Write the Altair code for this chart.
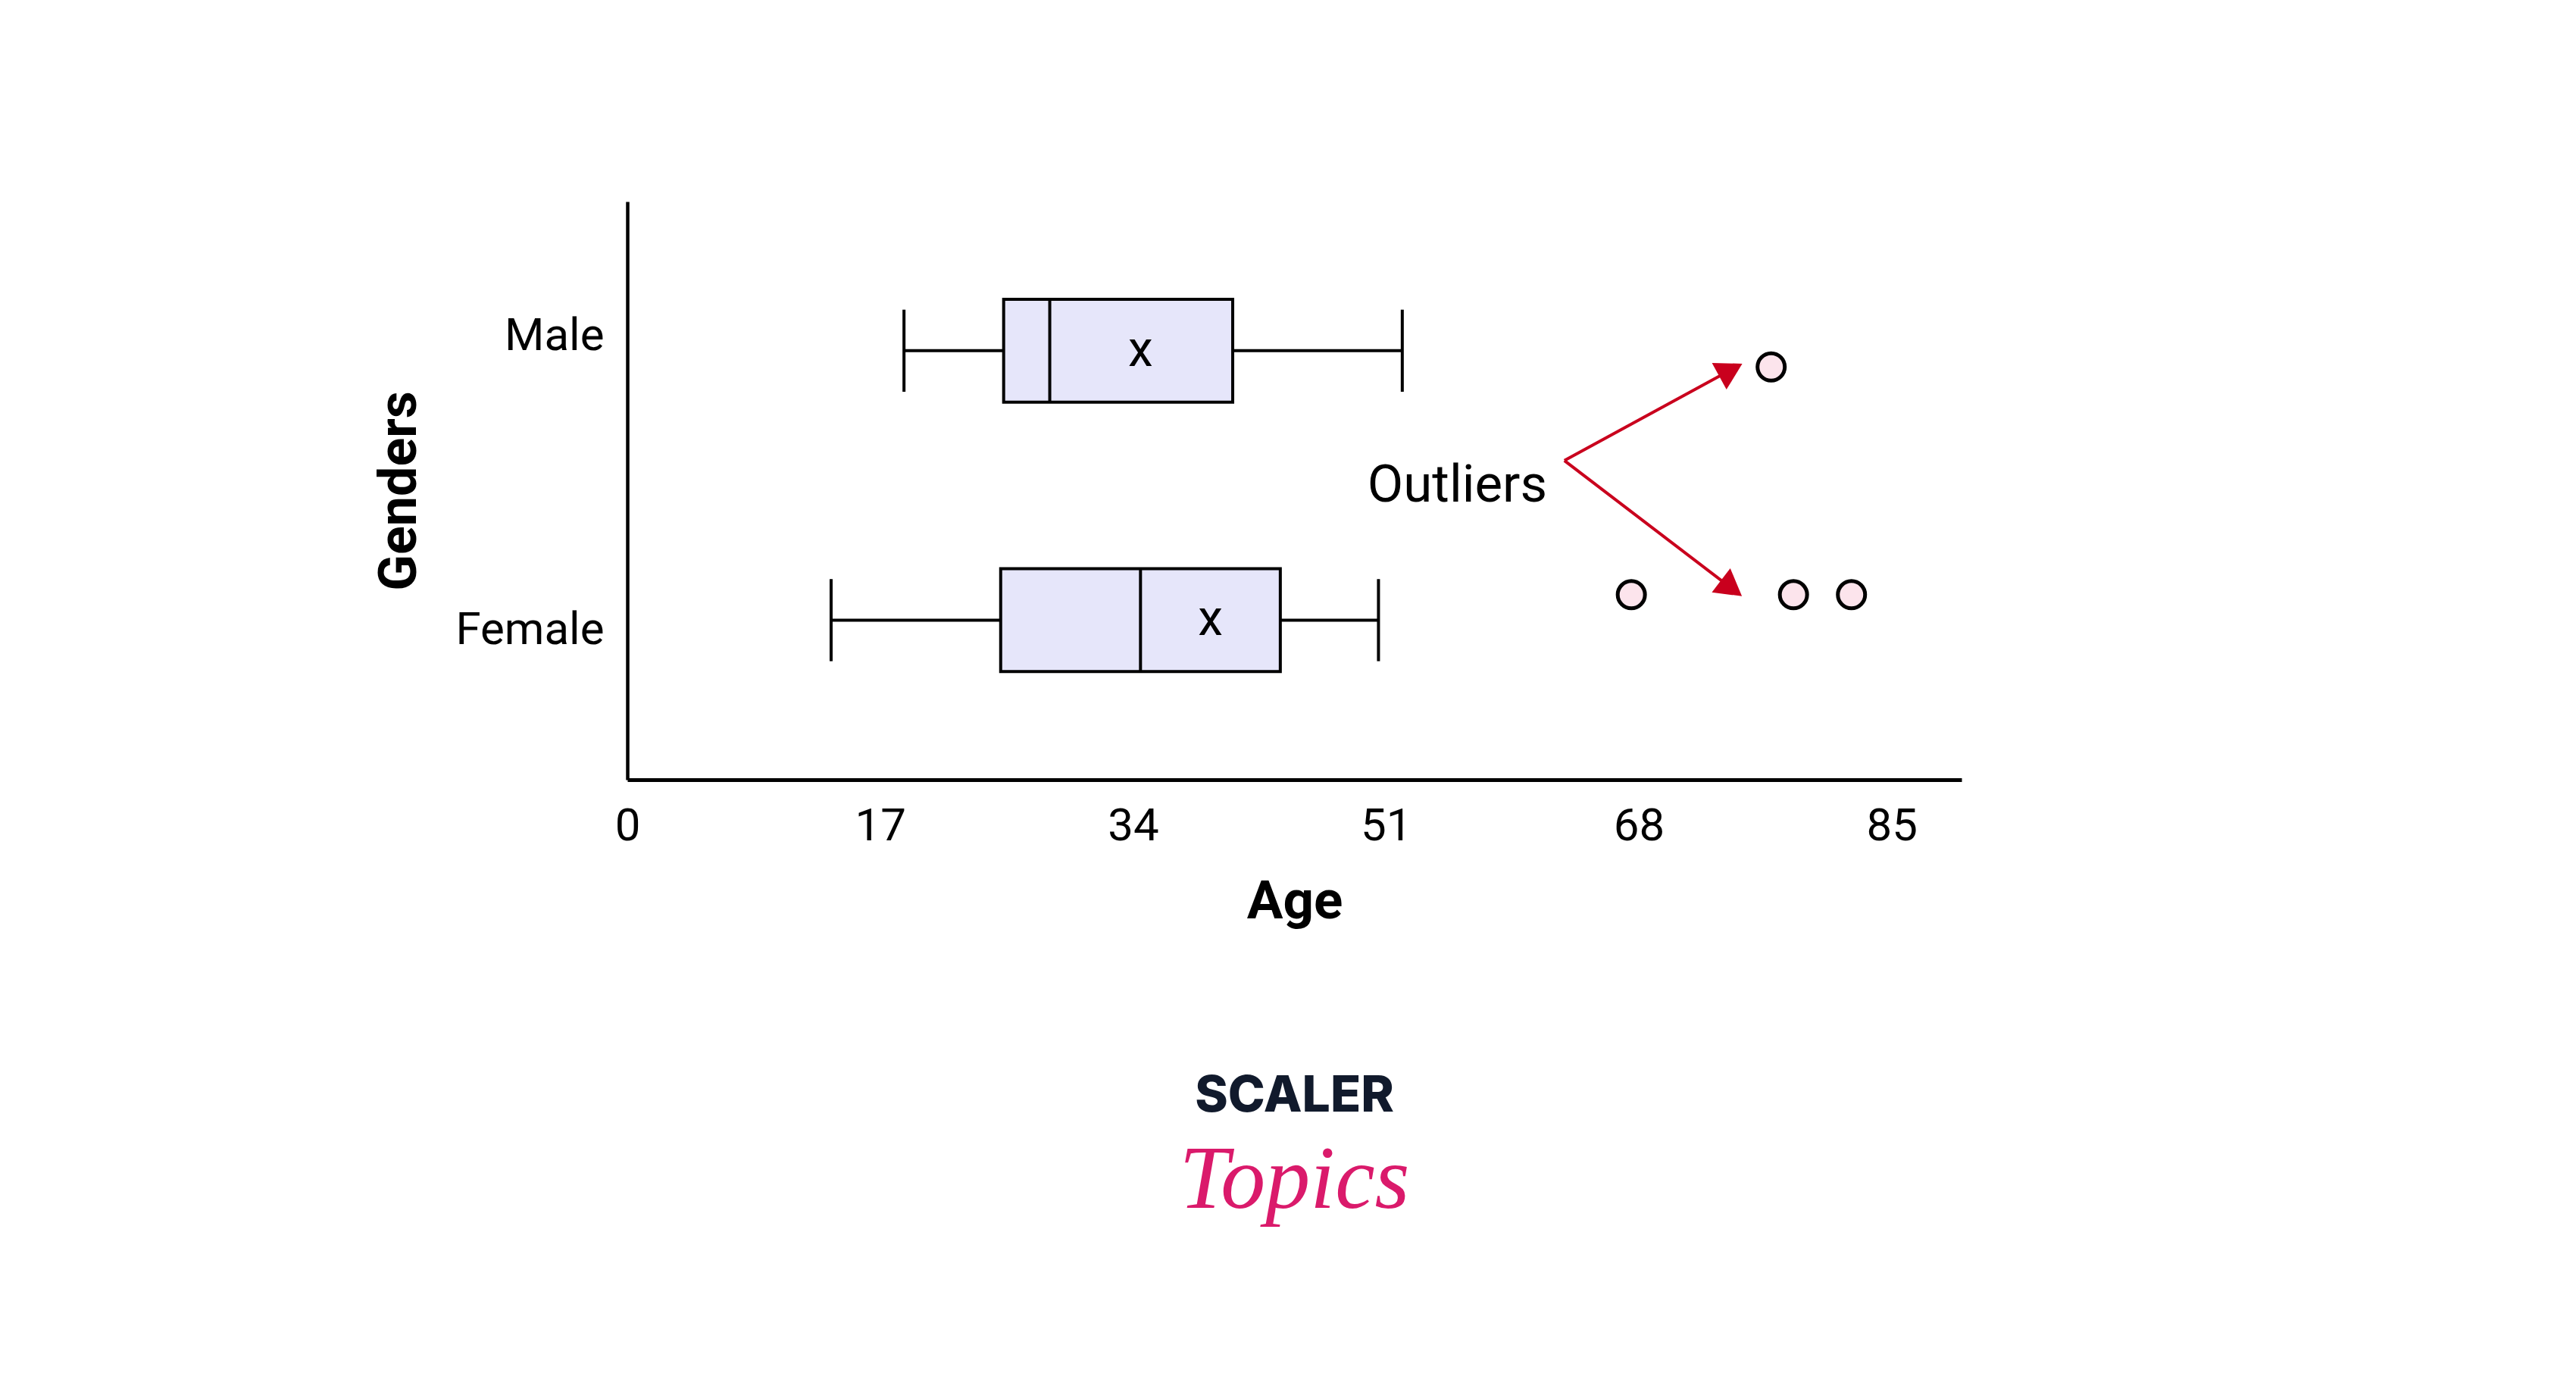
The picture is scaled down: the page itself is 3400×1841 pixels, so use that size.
import math
import altair as alt
import pandas as pd

# ---------------- data ----------------
genders = ["Male", "Female"]
row_pos = [74.2, 27.6]          # vertical position of each box (0-100 band)
label_pos = [76.8, 25.9]        # where the category labels sit
whisker_low = [18.6, 13.7]
q1 = [25.3, 25.1]
median = [28.4, 34.5]
q3 = [40.7, 43.9]
whisker_high = [52.1, 50.5]
mean_age = [34.5, 39.2]

outlier_gender = ["Male", "Female", "Female", "Female"]
outlier_age = [76.9, 67.5, 78.4, 82.3]
outlier_row = [71.4, 32.0, 32.0, 32.0]

age_ticks = [0, 17, 34, 51, 68, 85]
age_max = 89.7

arrow_from_age = [63.0, 63.0]
arrow_from_row = [55.2, 55.2]
arrow_to_age = [74.7, 74.7]
arrow_to_row = [71.6, 32.2]
note_text = ["Outliers"]
note_age = [55.8]
note_row = [48.1]

# ---------------- layout / style ----------------
W, H = 1761, 763
BOX_HALF = 8.9
CAP_HALF = 7.1
HEAD = 40
FONT = "Roboto"
BOX_FILL = "#E6E6FA"
OUT_FILL = "#FCE4EC"
RED = "#C9001D"

px_age = W / age_max
px_row = H / 100.0

boxes = pd.DataFrame({
    "gender": genders, "row": row_pos,
    "lo": [r - BOX_HALF for r in row_pos], "hi": [r + BOX_HALF for r in row_pos],
    "wlow": whisker_low, "q1": q1, "median": median, "q3": q3,
    "whigh": whisker_high, "mean": mean_age, "mark": ["x", "x"],
})
caps = pd.DataFrame({
    "age": whisker_low + whisker_high,
    "cap_lo": [r - CAP_HALF for r in row_pos] * 2,
    "cap_hi": [r + CAP_HALF for r in row_pos] * 2,
})
outliers = pd.DataFrame({"gender": outlier_gender, "age": outlier_age, "row": outlier_row})

heads_age, heads_row, heads_angle = [], [], []
for a0, r0, a1, r1 in zip(arrow_from_age, arrow_from_row, arrow_to_age, arrow_to_row):
    dx = (a1 - a0) * px_age
    dy = -(r1 - r0) * px_row
    L = math.hypot(dx, dy)
    ux, uy = dx / L, dy / L
    h = 0.433 * HEAD
    heads_age.append(a1 - h * ux / px_age)
    heads_row.append(r1 + h * uy / px_row)
    heads_angle.append(math.degrees(math.atan2(ux, -uy)) % 360)

arrows = pd.DataFrame({"a0": arrow_from_age, "r0": arrow_from_row,
                       "a1": arrow_to_age, "r1": arrow_to_row,
                       "ha": heads_age, "hr": heads_row, "ang": heads_angle})
notes = pd.DataFrame({"t": note_text, "age": note_age, "row": note_row})

label_expr = " : ".join(
    f"abs(datum.value - {p}) < 0.01 ? '{g}'" for g, p in zip(genders, label_pos)
) + " : ''"

x_scale = alt.Scale(domain=[0, age_max], nice=False, zero=False)
y_scale = alt.Scale(domain=[0, 100], nice=False, zero=False)
x_axis = alt.Axis(title="Age", values=age_ticks, format="d", grid=False, ticks=False,
                  tickSize=0, labelFlush=False, domainColor="black", domainWidth=5,
                  labelFont=FONT, labelFontSize=60, labelColor="black", labelPadding=32,
                  titleFont=FONT, titleFontSize=71, titleFontWeight="bold",
                  titleColor="black", titlePadding=35)
y_axis = alt.Axis(title="Genders", values=label_pos, labelExpr=label_expr, grid=False,
                  ticks=False, tickSize=0, labelFlush=False, labelLimit=600,
                  domainColor="black", domainWidth=4.5, labelFont=FONT,
                  labelFontSize=60, labelColor="black", labelPadding=31,
                  titleFont=FONT, titleFontSize=70, titleFontWeight="bold",
                  titleColor="black", titlePadding=65)


def X(f):
    return alt.X(f, type="quantitative", scale=x_scale, axis=x_axis)


def Y(f):
    return alt.Y(f, type="quantitative", scale=y_scale, axis=y_axis)


whisk = alt.Chart(boxes).mark_rule(color="black", strokeWidth=4).encode(
    x=X("wlow"), x2="whigh", y=Y("row"))
cap = alt.Chart(caps).mark_rule(color="black", strokeWidth=4).encode(
    x=X("age"), y=Y("cap_lo"), y2="cap_hi")
box = alt.Chart(boxes).mark_rect(fill=BOX_FILL, stroke="black", strokeWidth=4).encode(
    x=X("q1"), x2="q3", y=Y("lo"), y2="hi")
med = alt.Chart(boxes).mark_rule(color="black", strokeWidth=4).encode(
    x=X("median"), y=Y("lo"), y2="hi")
mean = alt.Chart(boxes).mark_text(font=FONT, fontSize=66, color="black",
                                  baseline="middle", align="center").encode(
    x=X("mean"), y=Y("row"), text="mark:N")
outl = alt.Chart(outliers).mark_point(shape="circle", filled=True, fill=OUT_FILL,
                                      stroke="black", strokeWidth=5, size=1296,
                                      opacity=1).encode(x=X("age"), y=Y("row"))
shaft = alt.Chart(arrows).mark_rule(color=RED, strokeWidth=4).encode(
    x=X("a0"), y=Y("r0"), x2="a1", y2="r1")
head = alt.Chart(arrows).mark_point(shape="triangle", filled=True, fill=RED,
                                    size=HEAD * HEAD, opacity=1, strokeWidth=0).encode(
    x=X("ha"), y=Y("hr"), angle=alt.Angle("ang:Q", scale=None))
note = alt.Chart(notes).mark_text(font=FONT, fontSize=69, color="black",
                                  align="center", baseline="alphabetic").encode(
    x=X("age"), y=Y("row"), text="t:N")

chart = alt.layer(whisk, cap, box, med, mean, outl, shaft, head, note).properties(
    width=W, height=H,
    autosize=alt.AutoSizeParams(type="none"),
    padding={"left": 820, "top": 258, "right": 790, "bottom": 780},
    background="white",
    title=alt.TitleParams(
        text="SCALER", subtitle="Topics", orient="bottom", anchor="middle",
        frame="group", font="Inter", fontSize=66, fontWeight=800, color="#111a2c",
        subtitleFont="Liberation Serif", subtitleFontStyle="italic",
        subtitleFontSize=118, subtitleColor="#DA1A6B", subtitlePadding=20,
        offset=190),
).configure_view(strokeWidth=0)

chart.save("out.html", embed_options={"renderer": "svg", "actions": False})
